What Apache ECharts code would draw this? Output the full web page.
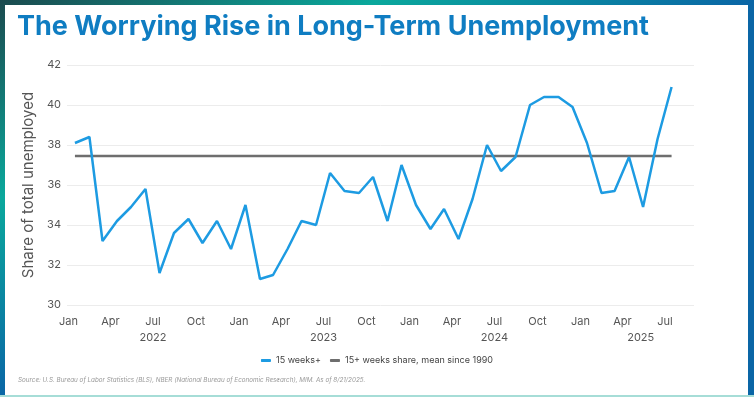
<!DOCTYPE html>
<html>
<head>
<meta charset="utf-8">
<script src="https://cdn.jsdelivr.net/npm/echarts@6/dist/echarts.min.js"></script>
<style>
  html, body { margin: 0; padding: 0; background: #fff; }
  #chart { width: 754px; height: 397px; }
</style>
</head>
<body>
<div id="chart"></div>
<script>
// ---- data ----
const months = [
  '2022-01','2022-02','2022-03','2022-04','2022-05','2022-06','2022-07','2022-08','2022-09','2022-10','2022-11','2022-12',
  '2023-01','2023-02','2023-03','2023-04','2023-05','2023-06','2023-07','2023-08','2023-09','2023-10','2023-11','2023-12',
  '2024-01','2024-02','2024-03','2024-04','2024-05','2024-06','2024-07','2024-08','2024-09','2024-10','2024-11','2024-12',
  '2025-01','2025-02','2025-03','2025-04','2025-05','2025-06','2025-07'
];
const share15Plus = [
  38.1, 38.4, 33.2, 34.2, 34.9, 35.8, 31.6, 33.6, 34.3, 33.1, 34.2, 32.8,
  35.0, 31.3, 31.5, 32.8, 34.2, 34.0, 36.6, 35.7, 35.6, 36.4, 34.2, 37.0,
  35.0, 33.8, 34.8, 33.3, 35.3, 38.0, 36.7, 37.4, 40.0, 40.4, 40.4, 39.9,
  38.1, 35.6, 35.7, 37.4, 34.9, 38.3, 40.9
];
const meanSince1990 = 37.45;
const tickDates = [
  '2022-01-01','2022-04-01','2022-07-01','2022-10-01',
  '2023-01-01','2023-04-01','2023-07-01','2023-10-01',
  '2024-01-01','2024-04-01','2024-07-01','2024-10-01',
  '2025-01-01','2025-04-01','2025-07-01'
];
const tickLabels = ['Jan','Apr','Jul','Oct','Jan','Apr','Jul','Oct','Jan','Apr','Jul','Oct','Jan','Apr','Jul'];
const yearLabelDates = ['2022-07-01','2023-07-01','2024-07-01','2025-05-10'];
const yearLabels = ['2022','2023','2024','2025'];
const yTicks = [30, 32, 34, 36, 38, 40, 42];
const seriesNames = ['15 weeks+', '15+ weeks share, mean since 1990'];

// ---- helpers ----
const ts = s => Date.UTC(+s.slice(0, 4), +s.slice(5, 7) - 1, +s.slice(8, 10));
const tickTs = tickDates.map(ts);
const tickMap = {}; tickTs.forEach((t, i) => tickMap[t] = tickLabels[i]);
const yearTs = yearLabelDates.map(ts);
const yearMap = {}; yearTs.forEach((t, i) => yearMap[t] = yearLabels[i]);
const pointTs = months.map(m => ts(m + '-15'));
const lineData = pointTs.map((t, i) => [t, share15Plus[i]]);
const meanData = [[pointTs[0], meanSince1990], [pointTs[pointTs.length - 1], meanSince1990]];
const xMin = ts('2021-12-29'), xMax = ts('2025-09-01');

const FONT = 'Inter, "Noto Sans", sans-serif';
const W = 754, H = 397;

const chart = echarts.init(document.getElementById('chart'), null, { renderer: 'canvas' });
chart.setOption({
  backgroundColor: '#fff',
  animation: false,
  textStyle: { fontFamily: FONT },
  graphic: [
    { type: 'rect', z: -10, silent: true, shape: { x: 0, y: 0, width: W, height: H },
      style: { fill: new echarts.graphic.LinearGradient(0, 0, 164, 311, [
        { offset: 0, color: '#1b4a4e' },
        { offset: 0.5, color: '#0aa89c' },
        { offset: 1, color: '#0a66a6' }
      ], true) } },
    { type: 'rect', z: -9, silent: true, shape: { x: 0, y: H - 2, width: W, height: 2 },
      style: { fill: '#a6ddd7' } },
    { type: 'rect', z: -8, silent: true, shape: { x: 5, y: 5, width: W - 11, height: H - 7 },
      style: { fill: '#ffffff' } },
    { type: 'text', left: 17, top: 13, z: 10,
      style: { text: 'The Worrying Rise in Long-Term Unemployment', fill: '#0f7dc2',
        font: 'bold 27px ' + FONT } },
    { type: 'text', left: 18, top: 377, z: 10,
      style: { text: 'Source: U.S. Bureau of Labor Statistics (BLS), NBER (National Bureau of Economic Research), MIM. As of 8/21/2025.',
        fill: '#9a9a9a', font: 'italic 6.3px ' + FONT } }
  ],
  legend: {
    top: 351, left: 'center',
    itemWidth: 10, itemHeight: 3, itemGap: 9,
    icon: 'roundRect',
    textStyle: { fontSize: 9, color: '#444', fontFamily: FONT },
    data: seriesNames
  },
  grid: { left: 67, right: 60, top: 65, bottom: 92 },
  xAxis: [
    {
      type: 'value', min: xMin, max: xMax,
      axisLine: { show: false }, axisTick: { show: false }, splitLine: { show: false },
      axisLabel: {
        customValues: tickTs,
        formatter: v => tickMap[v] || '',
        color: '#555', fontSize: 11, margin: 11, fontFamily: FONT,
        hideOverlap: false
      }
    },
    {
      type: 'value', position: 'bottom', min: xMin, max: xMax,
      axisLine: { show: false }, axisTick: { show: false }, splitLine: { show: false },
      axisLabel: {
        customValues: yearTs,
        formatter: v => yearMap[v] || '',
        color: '#555', fontSize: 11, margin: 27, fontFamily: FONT,
        hideOverlap: false
      }
    }
  ],
  yAxis: {
    type: 'value', min: yTicks[0], max: yTicks[yTicks.length - 1], interval: 2,
    name: 'Share of total unemployed', nameLocation: 'middle', nameGap: 31,
    nameTextStyle: { fontSize: 15, color: '#555', fontFamily: FONT },
    axisLine: { show: false }, axisTick: { show: false },
    axisLabel: { color: '#555', fontSize: 11, margin: 6, fontFamily: FONT },
    splitLine: { lineStyle: { color: '#ececec', width: 1 } }
  },
  series: [
    {
      name: seriesNames[0], type: 'line', data: lineData, showSymbol: false, symbol: 'none',
      lineStyle: { color: '#1d9be2', width: 2.5 }, itemStyle: { color: '#1d9be2' }, z: 3
    },
    {
      name: seriesNames[1], type: 'line', data: meanData, showSymbol: false, symbol: 'none',
      lineStyle: { color: '#6e6e6e', width: 2.5 }, itemStyle: { color: '#6e6e6e' }, z: 2
    }
  ]
});
</script>
</body>
</html>
